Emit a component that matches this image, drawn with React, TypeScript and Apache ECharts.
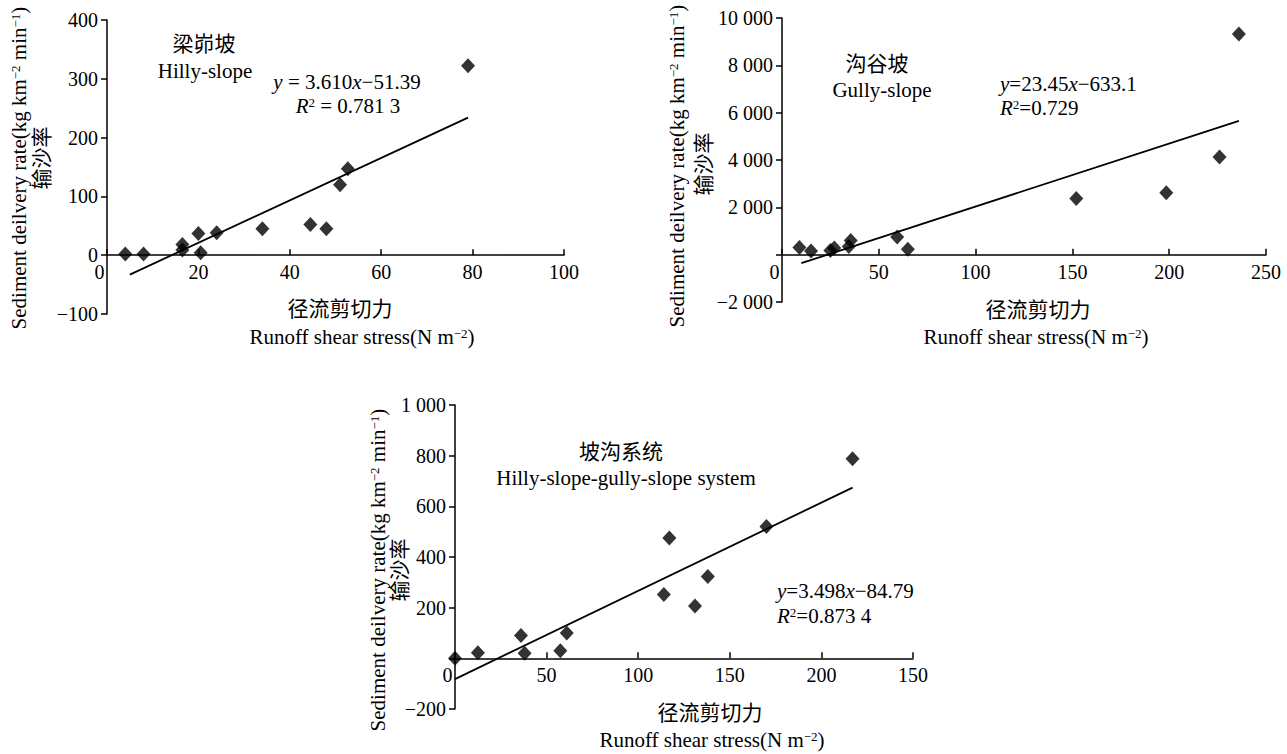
import React, { useEffect, useRef } from "react";
import * as echarts from "echarts";

// ---- data ----
const hillyX = [4, 8, 16.5, 16.5, 20, 20.5, 24, 34, 44.5, 48, 51, 52.7, 79];
const hillyY = [2, 2, 18, 9, 37, 4, 38, 45, 52, 45, 120, 147, 322];
const hillyFitX = [5, 79];
const hillyFitY = [-33, 234];

const gullyX = [9, 15, 25, 27, 34.5, 35.5, 59.5, 65, 152, 198.5, 226, 236];
const gullyY = [300, 150, 180, 280, 350, 600, 750, 230, 2370, 2620, 4130, 9320];
const gullyFitX = [10, 236];
const gullyFitY = [-360, 5650];

const systemX = [0, 12.5, 36, 38, 57.5, 61, 114, 117, 131, 138, 170, 217];
const systemY = [0, 22, 90, 20, 30, 100, 252, 475, 207, 323, 520, 788];
const systemFitX = [0, 217];
const systemFitY = [-82, 674];

const hillyXTicks = ["0", "20", "40", "60", "80", "100"];
const hillyYTicks = ["−100", "0", "100", "200", "300", "400"];
const gullyXTicks = ["0", "50", "100", "150", "200", "250"];
const gullyYTicks = ["−2 000", "", "2 000", "4 000", "6 000", "8 000", "10 000"];
const systemXTicks = ["0", "50", "100", "150", "200", "150"];
const systemYTicks = ["−200", "", "200", "400", "600", "800", "1 000"];

const FONT = '"Liberation Serif", "Times New Roman", "Noto Sans CJK SC", serif';
const FS = 20;
const NFS = 21;

function pairs(xs: number[], ys: number[]) {
  return xs.map((x, i) => [x, ys[i]]);
}

// zeroShift: distance (px) from the grid bottom to the y = 0 line
function xAxisDef(grid: number, min: number, max: number, step: number, ticks: string[], zeroShift: number) {
  return {
    type: "value",
    gridIndex: grid,
    position: "bottom",
    offset: -zeroShift,
    min,
    max,
    interval: step,
    axisLine: { onZero: false, lineStyle: { color: "#000", width: 1.5 } },
    axisTick: { inside: true, length: 6, lineStyle: { color: "#000", width: 1.5 } },
    splitLine: { show: false },
    axisLabel: {
      margin: 7,
      color: "#000",
      fontFamily: FONT,
      fontSize: FS,
      formatter: (v: number) => {
        const t = ticks[Math.round((v - min) / step)] ?? "";
        return v === 0 ? "{z|" + t + "}" : t;
      },
      rich: { z: { padding: [0, 15, 0, 0], fontFamily: FONT, fontSize: FS, color: "#000" } },
    },
  };
}

function yAxisDef(grid: number, min: number, max: number, step: number, ticks: string[]) {
  return {
    type: "value",
    gridIndex: grid,
    min,
    max,
    interval: step,
    axisLine: { show: true, onZero: false, lineStyle: { color: "#000", width: 1.5 } },
    axisTick: { show: true, inside: false, length: 6, lineStyle: { color: "#000", width: 1.5 } },
    splitLine: { show: false },
    axisLabel: {
      margin: 9,
      color: "#000",
      fontFamily: FONT,
      fontSize: FS,
      formatter: (v: number) => ticks[Math.round((v - min) / step)] ?? "",
    },
  };
}

function scatter(idx: number, xs: number[], ys: number[]) {
  return {
    type: "scatter",
    xAxisIndex: idx,
    yAxisIndex: idx,
    symbol: "diamond",
    symbolSize: [14, 15],
    itemStyle: { color: "#000" },
    data: pairs(xs, ys),
    z: 3,
  };
}

function fit(idx: number, xs: number[], ys: number[]) {
  return {
    type: "line",
    xAxisIndex: idx,
    yAxisIndex: idx,
    showSymbol: false,
    symbol: "none",
    lineStyle: { color: "#000", width: 1.8 },
    data: pairs(xs, ys),
    z: 2,
  };
}

const rich = {
  sup: { fontFamily: FONT, fontSize: 13, verticalAlign: "top", fill: "#000", padding: [0, 0, 8, 0] },
  i: { fontFamily: FONT, fontSize: NFS, fontStyle: "italic", fill: "#000" },
};

function txt(x: number, y: number, text: string, opts: any = {}) {
  const fs = opts.fontSize || NFS;
  return {
    type: "text",
    x,
    y,
    rotation: opts.rotation || 0,
    style: {
      text,
      fill: "#000",
      font: `${fs}px ${FONT}`,
      fontFamily: FONT,
      fontSize: fs,
      align: opts.align || "center",
      verticalAlign: "middle",
      textAlign: opts.align || "center",
      textVerticalAlign: "middle",
      rich,
    },
  };
}

const yName = "Sediment deilvery rate(kg km{sup|−2} min{sup|−1})";
const xName = "Runoff shear stress(N m{sup|−2})";

export default function App() {
  const ref = useRef<HTMLDivElement>(null);
  useEffect(() => {
    if (!ref.current) return;
    const chart = echarts.init(ref.current, null, { renderer: "svg" });
    chart.setOption({
      animation: false,
      backgroundColor: "#fff",
      grid: [
        { left: 107, top: 20, width: 457, height: 294 },
        { left: 782, top: 18, width: 484, height: 284 },
        { left: 455, top: 405, width: 458, height: 304 },
      ],
      xAxis: [
        xAxisDef(0, 0, 100, 20, hillyXTicks, (294 * 100) / 500),
        xAxisDef(1, 0, 250, 50, gullyXTicks, (284 * 2000) / 12000),
        xAxisDef(2, 0, 250, 50, systemXTicks, (304 * 200) / 1200),
      ],
      yAxis: [
        yAxisDef(0, -100, 400, 100, hillyYTicks),
        yAxisDef(1, -2000, 10000, 2000, gullyYTicks),
        yAxisDef(2, -200, 1000, 200, systemYTicks),
      ],
      series: [
        fit(0, hillyFitX, hillyFitY),
        scatter(0, hillyX, hillyY),
        fit(1, gullyFitX, gullyFitY),
        scatter(1, gullyX, gullyY),
        fit(2, systemFitX, systemFitY),
        scatter(2, systemX, systemY),
      ],
      graphic: [
        // chart 1
        txt(204, 44, "梁峁坡"),
        txt(205, 71, "Hilly-slope"),
        txt(347, 82, "{i|y} = 3.610{i|x}−51.39"),
        txt(348, 106, "{i|R}{sup|2} = 0.781 3"),
        txt(340, 309, "径流剪切力"),
        txt(362, 337, xName),
        txt(19, 168, yName, { rotation: Math.PI / 2 }),
        txt(42, 158, "输沙率", { rotation: Math.PI / 2 }),
        // chart 2
        txt(877, 64, "沟谷坡"),
        txt(882, 90, "Gully-slope"),
        txt(1000, 84, "{i|y}=23.45{i|x}−633.1", { align: "left" }),
        txt(1000, 108, "{i|R}{sup|2}=0.729", { align: "left" }),
        txt(1038, 310, "径流剪切力"),
        txt(1036, 337, xName),
        txt(677, 166, yName, { rotation: Math.PI / 2 }),
        txt(704, 164, "输沙率", { rotation: Math.PI / 2 }),
        // chart 3
        txt(621, 452, "坡沟系统"),
        txt(626, 478, "Hilly-slope-gully-slope system"),
        txt(777, 591, "{i|y}=3.498{i|x}−84.79", { align: "left" }),
        txt(777, 616, "{i|R}{sup|2}=0.873 4", { align: "left" }),
        txt(710, 713, "径流剪切力"),
        txt(712, 740, xName),
        txt(378, 570, yName, { rotation: Math.PI / 2 }),
        txt(400, 570, "输沙率", { rotation: Math.PI / 2 }),
      ],
    });
    return () => chart.dispose();
  }, []);
  return (
    <div
      ref={ref}
      style={{ position: "fixed", left: 0, top: 0, width: 1287, height: 754, background: "#fff" }}
    />
  );
}
